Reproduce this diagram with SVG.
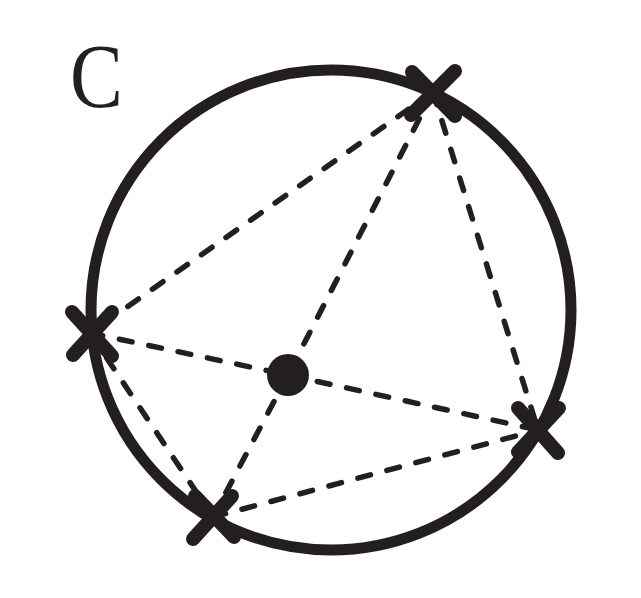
<svg xmlns="http://www.w3.org/2000/svg" width="641" height="598" viewBox="0 0 641 598">
<style>
.dash{stroke:#231f20;stroke-width:5.5;stroke-dasharray:13 17;stroke-linecap:round;fill:none}
.x{stroke:#231f20;stroke-width:14;stroke-linecap:round}
.lbl{font-family:"Liberation Serif","Times New Roman",serif;font-size:90px;fill:#231f20}
</style>
<rect width="641" height="598" fill="#fff"/>
<g id="connectors">
<line class="dash" x1="433" y1="92" x2="90" y2="333"/>
<line class="dash" x1="433" y1="92" x2="538" y2="430"/>
<line class="dash" x1="433" y1="92" x2="288" y2="375"/>
<line class="dash" x1="90" y1="333" x2="288" y2="375"/>
<line class="dash" x1="90" y1="333" x2="213" y2="517"/>
<line class="dash" x1="288" y1="375" x2="213" y2="517"/>
<line class="dash" x1="288" y1="375" x2="538" y2="430"/>
<line class="dash" x1="213" y1="517" x2="538" y2="430"/>
</g>
<g id="circle">
<circle cx="331" cy="310" r="240" fill="none" stroke="#231f20" stroke-width="11"/>
</g>
<g id="label"><text class="lbl" x="70" y="107" transform="translate(70 0) scale(0.88 1) translate(-70 0)">C</text></g>
<g id="node-top"><line class="x" x1="412" y1="72" x2="455" y2="116"/><line class="x" x1="455" y1="71" x2="411" y2="115"/></g>
<g id="node-left"><line class="x" x1="72" y1="312" x2="112" y2="356"/><line class="x" x1="112" y1="312" x2="73" y2="355"/></g>
<g id="node-bottom"><line class="x" x1="195" y1="496" x2="234" y2="537"/><line class="x" x1="232" y1="496" x2="193" y2="539"/></g>
<g id="node-right"><line class="x" x1="518" y1="408" x2="558" y2="453"/><line class="x" x1="559" y1="408" x2="518" y2="452"/></g>
<g id="node-center"><circle cx="288" cy="375" r="21" fill="#231f20"/></g>
</svg>
